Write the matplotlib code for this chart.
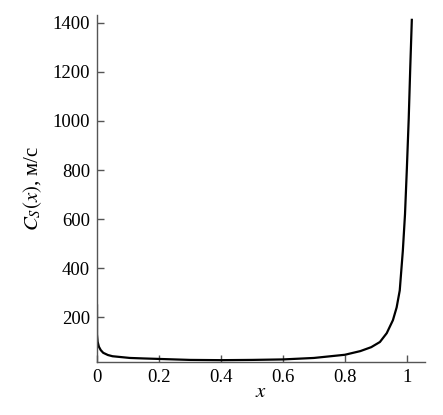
import numpy as np
import matplotlib
matplotlib.use('Agg')
import matplotlib.pyplot as plt

plt.rcParams['font.family'] = ['Liberation Serif', 'DejaVu Serif']
plt.rcParams['mathtext.fontset'] = 'stix'

# curve
x_vals = [0.0, 0.0, 0.002, 0.006, 0.012, 0.02, 0.035, 0.05, 0.074, 0.106, 0.15, 0.2, 0.3, 0.4,
          0.5, 0.6, 0.7, 0.8, 0.85, 0.885, 0.913, 0.935, 0.955, 0.967, 0.977, 0.987,
          0.994, 1.0, 1.006, 1.011, 1.016]
cs_vals = [248, 130, 100, 80, 66, 55, 46, 41, 38, 34, 32, 30, 26, 25,
           26, 28, 34, 47, 62, 78, 99, 135, 188, 240, 309, 471,
           620, 806, 1010, 1220, 1412]

xticks = [0, 0.2, 0.4, 0.6, 0.8, 1]
xtick_labels = ['0', '0.2', '0.4', '0.6', '0.8', '1']
yticks = [200, 400, 600, 800, 1000, 1200, 1400]

fig = plt.figure(figsize=(4.43, 4.15), dpi=100)
ax = fig.add_axes([0.219, 0.128, 0.74, 0.836])

ax.plot(x_vals, cs_vals, color='black', lw=1.6)

ax.set_xlim(0, 1.058)
ax.set_ylim(18, 1432)
ax.set_xticks(xticks)
ax.set_xticklabels(xtick_labels)
ax.set_yticks(yticks)

for s in ['top', 'right']:
    ax.spines[s].set_visible(False)
for s in ['left', 'bottom']:
    ax.spines[s].set_color('#555555')
    ax.spines[s].set_linewidth(1.0)

ax.tick_params(direction='in', length=5, width=1, color='#555555',
               labelsize=13.5, pad=5)

ax.set_xlabel('$x$', fontsize=15, labelpad=-2)
ax.set_ylabel('$C_S(x)$, м/с', fontsize=15, labelpad=6)

fig.savefig('out.png', dpi=100)
